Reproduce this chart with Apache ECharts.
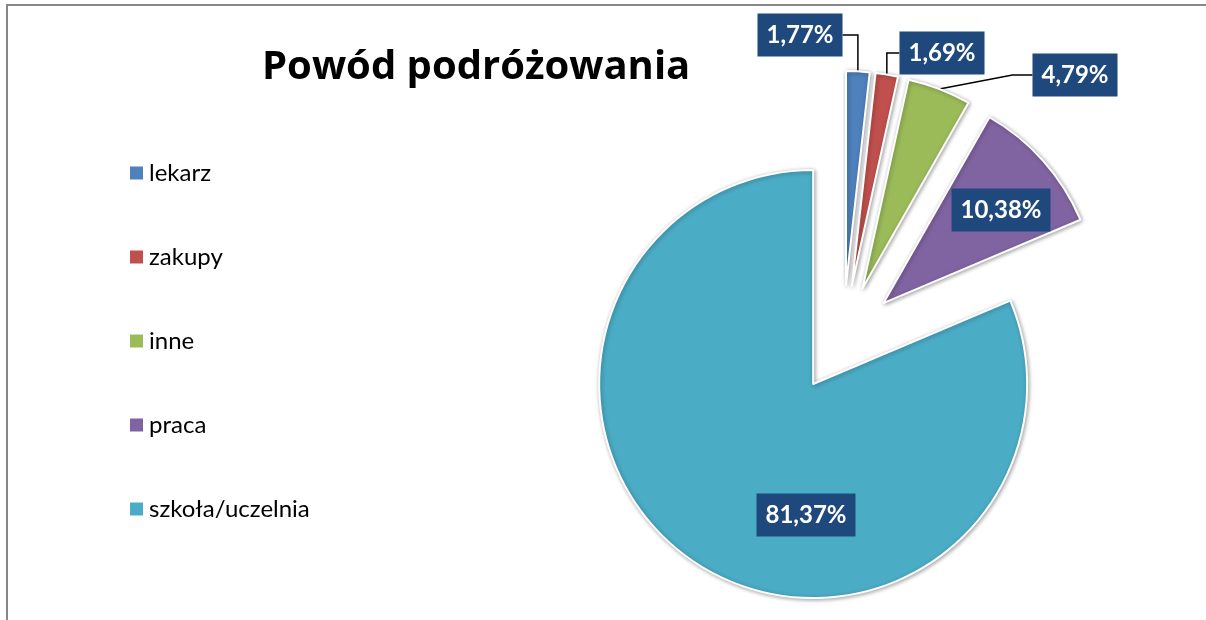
<!DOCTYPE html>
<html>
<head>
<meta charset="utf-8">
<script src="https://cdn.jsdelivr.net/npm/echarts@6/dist/echarts.min.js"></script>
<style>
html,body{margin:0;padding:0;background:#fff;}
#chart{width:1206px;height:620px;}
</style>
</head>
<body>
<div id="chart"></div>
<script>
// ---- data ----
const categories = ['lekarz', 'zakupy', 'inne', 'praca', 'szkoła/uczelnia'];
const values = [1.77, 1.69, 4.79, 10.38, 81.37];
const valueLabels = ['1,77%', '1,69%', '4,79%', '10,38%', '81,37%'];
const colors = ['#4F81BD', '#C0504D', '#9BBB59', '#8064A2', '#4BACC6'];
const insideLabel = [false, false, false, true, true];

const FONT = 'Lato, "Open Sans", sans-serif';
// ---- layout (not data) ----
const PIE_CENTER = [843, 339];
const PIE_RADIUS = 214;
const EXPLODE = 54;
const labelCentres = [[800, 35], [942, 53], [1075, 75], [1001, 210], [806, 515]];

// every slice is pulled out along its own bisector (exploded pie)
const total = values.reduce((a, b) => a + b, 0);
let cum = 0;
const midAngles = values.map(v => {
  const m = (cum + v / 2) / total * 2 * Math.PI;
  cum += v;
  return m;
});

const hiddenStyle = {color: 'rgba(0,0,0,0)', borderWidth: 0, shadowBlur: 0, shadowColor: 'rgba(0,0,0,0)'};

const series = categories.map((_, i) => ({
  type: 'pie',
  name: categories[i],
  center: [PIE_CENTER[0] + EXPLODE * Math.sin(midAngles[i]), PIE_CENTER[1] - EXPLODE * Math.cos(midAngles[i])],
  radius: [0, PIE_RADIUS],
  startAngle: 90,
  clockwise: true,
  avoidLabelOverlap: false,
  emphasis: {disabled: true},
  silent: true,
  itemStyle: {
    borderColor: '#fff', borderWidth: 2,
    shadowColor: 'rgba(0,0,0,0.35)', shadowBlur: 4, shadowOffsetX: 1, shadowOffsetY: 1
  },
  label: {
    show: true,
    position: insideLabel[i] ? 'inside' : 'outside',
    formatter: p => valueLabels[p.dataIndex],
    fontFamily: FONT, fontSize: 24, fontWeight: 'bold', color: '#fff',
    backgroundColor: '#1F497D',
    lineHeight: 26,
    padding: [9, 9, 8, 9]
  },
  labelLine: {show: !insideLabel[i], length: 15, length2: 20, lineStyle: {color: '#000', width: 1.5}},
  labelLayout: function (params) {
    const c = labelCentres[params.dataIndex];
    return {x: c[0], y: c[1], align: 'center', verticalAlign: 'middle'};
  },
  data: categories.map((name, j) => j === i
    ? {name: name, value: values[j], itemStyle: {color: colors[j]}}
    : {name: name, value: values[j], itemStyle: hiddenStyle, label: {show: false}, labelLine: {show: false}})
}));

const chart = echarts.init(document.getElementById('chart'), null, {renderer: 'canvas'});
chart.setOption({
  animation: false,
  title: {
    text: 'Powód podróżowania',
    left: 257,
    top: 43,
    textStyle: {fontFamily: '"Open Sans", Lato, sans-serif', fontSize: 40, fontWeight: 'bold', color: '#000'}
  },
  legend: {
    orient: 'vertical',
    left: 125,
    top: 155,
    icon: 'rect',
    itemWidth: 13,
    itemHeight: 13,
    itemGap: 58,
    itemStyle: {borderWidth: 0, shadowBlur: 0, shadowColor: 'rgba(0,0,0,0)'},
    data: categories.map((n, i) => ({name: n, itemStyle: {color: colors[i]}})),
    textStyle: {fontFamily: FONT, fontSize: 24, color: '#000', lineHeight: 26, padding: [0, 0, 0, 1]}
  },
  graphic: [{
    type: 'rect',
    shape: {x: 7, y: 5, width: 1400, height: 800},
    style: {fill: 'none', stroke: '#878787', lineWidth: 2},
    silent: true
  }],
  series: series
});
</script>
</body>
</html>
